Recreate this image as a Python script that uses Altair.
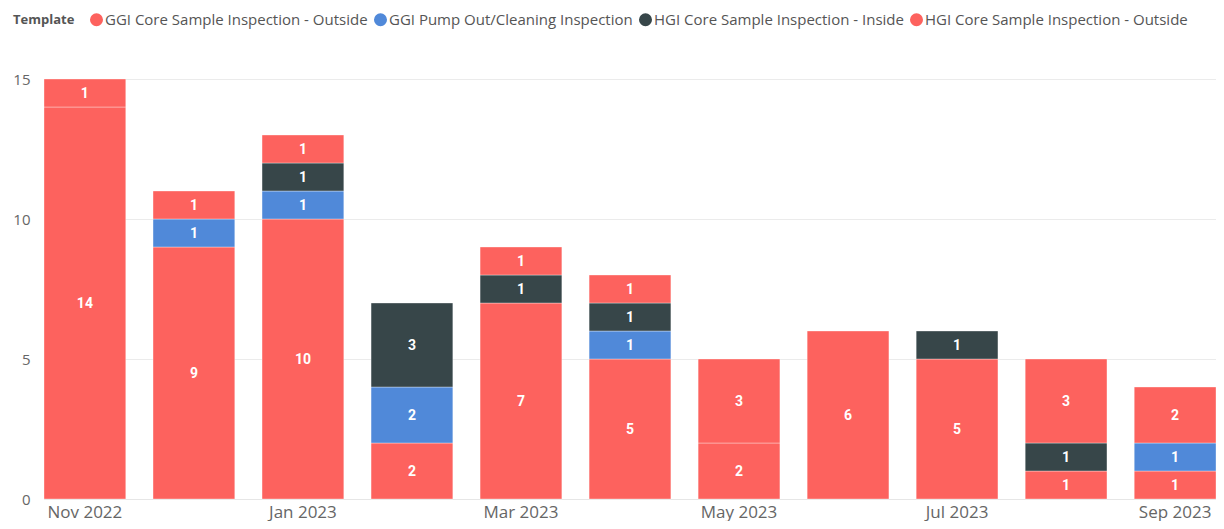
import altair as alt
import pandas as pd

months = ["Nov 2022", "Dec 2022", "Jan 2023", "Feb 2023", "Mar 2023", "Apr 2023",
          "May 2023", "Jun 2023", "Jul 2023", "Aug 2023", "Sep 2023"]
series = ["GGI Core Sample Inspection - Outside", "GGI Pump Out/Cleaning Inspection",
          "HGI Core Sample Inspection - Inside", "HGI Core Sample Inspection - Outside"]
ggi_core_out = [14, 9, 10, 2, 7, 5, 2, 6, 5, 1, 1]
ggi_pump = [0, 1, 1, 2, 0, 1, 0, 0, 0, 0, 1]
hgi_core_in = [0, 0, 1, 3, 1, 1, 0, 0, 1, 1, 0]
hgi_core_out = [1, 1, 1, 0, 1, 1, 3, 0, 0, 3, 2]
colors = ["#FD625E", "#5089D9", "#374649", "#FD625E"]
tick_months = ["Nov 2022", "Jan 2023", "Mar 2023", "May 2023", "Jul 2023", "Sep 2023"]

rows = []
for si, (name, vals) in enumerate(zip(series, [ggi_core_out, ggi_pump, hgi_core_in, hgi_core_out])):
    for m, v in zip(months, vals):
        if v > 0:
            rows.append({"month": m, "Template": name, "count": v, "ord": si})
df = pd.DataFrame(rows)

x = alt.X("month:N", sort=months, title=None,
          scale=alt.Scale(paddingInner=0.25, paddingOuter=0.0),
          axis=alt.Axis(values=tick_months, labelAngle=0, labelFontSize=17, labelColor="#666666",
                        labelFont="Open Sans", ticks=False, domain=True, domainColor="#E6E6E6",
                        labelBaseline="alphabetic", labelPadding=18, grid=False))

base = alt.Chart(df).transform_stack(
    stack="count", groupby=["month"], sort=[alt.SortField("ord")], as_=["y0", "y1"]
).transform_calculate(mid="(datum.y0 + datum.y1) / 2")

bars = base.mark_bar(stroke="white", strokeWidth=1, strokeOpacity=0.35).encode(
    x=x,
    y=alt.Y("y0:Q", title=None, scale=alt.Scale(domain=[0, 15], nice=False),
            axis=alt.Axis(values=[0, 5, 10, 15], labelFontSize=15, labelColor="#666666",
                          labelFont="Open Sans", ticks=False, domain=False,
                          gridColor="#EBEBEB", labelPadding=14)),
    y2="y1:Q",
    color=alt.Color("Template:N", scale=alt.Scale(domain=series, range=colors),
                    legend=alt.Legend(orient="none", legendX=-31, legendY=-67, direction="horizontal",
                                      titleOrient="left", title="Template", titleFontSize=13,
                                      titleColor="#555555", titleFont="Open Sans", titleFontWeight="bold",
                                      labelFont="Open Sans", labelFontSize=15, labelColor="#555555",
                                      symbolType="circle", symbolSize=170, symbolStrokeWidth=0,
                                      labelLimit=0, columnPadding=5, labelOffset=1, titlePadding=14,
                                      symbolOpacity=1)),
    order=alt.Order("ord:Q"),
)

texts = base.mark_text(color="white", fontWeight="bold", font="Roboto", fontSize=14,
                       baseline="middle", dy=1).encode(
    x=alt.X("month:N", sort=months),
    y="mid:Q",
    text="count:Q",
)

chart = (bars + texts).properties(
    width=1172, height=420,
    autosize=alt.AutoSizeParams(type="none"),
    padding={"left": 36, "top": 71, "right": 0, "bottom": 22},
).configure_view(stroke=None).configure(background="white")

chart.save("out.html", embed_options={"renderer": "svg", "actions": False})
